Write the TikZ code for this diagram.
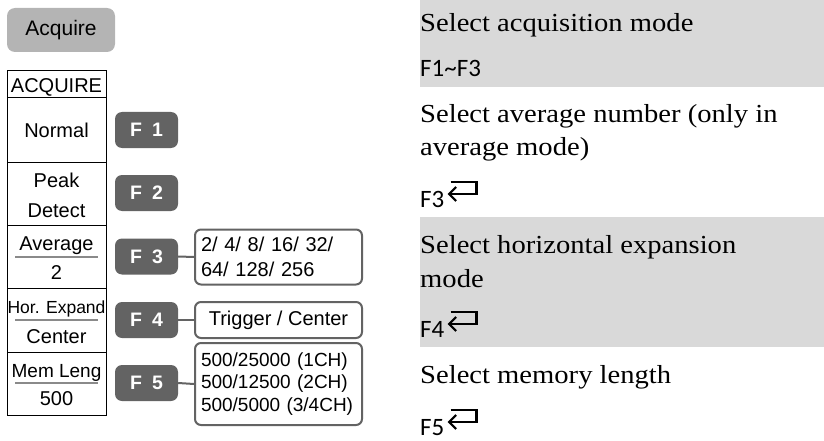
\documentclass[tikz,border=0pt]{standalone}
\usepackage{fontspec}
\setmainfont{Liberation Sans}
\newfontfamily\serifR[FakeStretch=1.1]{Liberation Serif}
\newfontfamily\keyf{Carlito}
\usetikzlibrary{arrows.meta,calc}
\definecolor{bandgray}{HTML}{D9D9D9}
\definecolor{btngray}{HTML}{B4B4B4}
\definecolor{fkeygray}{HTML}{636363}
\definecolor{sepgray}{HTML}{8A8A8A}
\tikzset{
  acqbtn/.style={rectangle, rounded corners=8pt, fill=btngray, minimum width=108pt, minimum height=44pt, inner sep=0pt, font=\fontsize{21}{25}\selectfont},
  rowbox/.style={rectangle, draw=black, line width=1pt, minimum width=99pt, inner sep=0pt},
  celltext/.style={anchor=base, inner sep=0pt, font=\fontsize{20}{24}\selectfont},
  sepline/.style={draw=sepgray, line width=1.5pt},
  fkey/.style={rectangle, rounded corners=7pt, fill=fkeygray, text=white, minimum width=63pt, minimum height=36pt, inner sep=0pt, font=\fontsize{19.5}{23}\selectfont\bfseries},
  optbox/.style={rectangle, rounded corners=6pt, draw=fkeygray, line width=2pt, fill=white, minimum width=167pt, inner xsep=6pt, inner ysep=0pt},
  conn/.style={draw=fkeygray, line width=2pt},
  desc/.style={anchor=base west, inner sep=0pt, font=\serifR\fontsize{26}{33}\selectfont},
  keytxt/.style={anchor=base west, inner sep=0pt, font=\keyf\fontsize{25}{30}\selectfont},
  retarrow/.style={draw=black, line width=2.2pt, -{Straight Barb[length=7pt,width=14pt,line width=2.2pt]}}
}
\newcommand{\retsym}[1]{\draw[retarrow] ($(#1.base east)+(6,-25)$) -- ++(26,0) -- ++(0,12) -- ++(-29,0);}
\begin{document}
\begin{tikzpicture}[x=1pt,y=-1pt]
\useasboundingbox (0,0) rectangle (824,441);
% grey bands on the right
\fill[bandgray] (420,0) rectangle (824,87);
\fill[bandgray] (420,217) rectangle (824,347);

% Acquire button
\node[acqbtn] (acq) at (61,30) {Acquire};

% menu table
\node[rowbox, minimum height=27pt] (hdr) at (56.5,84.5) {};
\node[rowbox, minimum height=64pt] (normal) at (56.5,130) {};
\node[rowbox, minimum height=63pt] (peak) at (56.5,193.5) {};
\node[rowbox, minimum height=63pt] (avg) at (56.5,256.5) {};
\node[rowbox, minimum height=64pt] (hor) at (56.5,320) {};
\node[rowbox, minimum height=63pt] (mem) at (56.5,383.5) {};

\node[celltext] (hdrT) at (56.5,93) {ACQUIRE};
\node[celltext] (normalT) at (56.5,138) {Normal};
\node[celltext] (peakT) at (56.5,187) {Peak};
\node[celltext] (peakT2) at (56.5,217) {Detect};
\node[celltext] (avgT) at (56.5,250) {Average};
\node[celltext] (avgV) at (56.5,279) {2};
\node[celltext, font=\fontsize{17.5}{21}\selectfont] (horT) at (56.5,313) {Hor. Expand};
\node[celltext] (horV) at (56.5,343) {Center};
\node[celltext, font=\fontsize{19}{23}\selectfont] (memT) at (56.5,377) {Mem Leng};
\node[celltext] (memV) at (56.5,405) {500};

\draw[sepline] (15,257) -- (98,257);
\draw[sepline] (15,320) -- (98,320);
\draw[sepline] (15,383) -- (98,383);

% function keys
\node[fkey] (f1) at (146.5,130) {F\hspace{10pt}1};
\node[fkey] (f2) at (146.5,193) {F\hspace{10pt}2};
\node[fkey] (f3) at (146.5,256.5) {F\hspace{10pt}3};
\node[fkey] (f4) at (146.5,320) {F\hspace{10pt}4};
\node[fkey] (f5) at (146.5,383) {F\hspace{10pt}5};

% option boxes
\node[optbox, minimum height=55pt, text width=155pt, align=left, font=\fontsize{20}{25}\selectfont] (o3) at (278.5,257) {2/ 4/ 8/ 16/ 32/\\64/ 128/ 256};
\node[optbox, minimum height=36pt, font=\fontsize{20}{24}\selectfont] (o4) at (278.5,320) {Trigger / Center};
\node[optbox, minimum height=82pt, text width=155pt, align=left, font=\fontsize{19}{22.5}\selectfont] (o5) at (278.5,384) {500/25000 (1CH)\\500/12500 (2CH)\\500/5000 (3/4CH)};

\draw[conn] (f3.east) -- (o3.west);
\draw[conn] (f4.east) -- (o4.west);
\draw[conn] (f5.east) -- (o5.west);

% descriptions
\node[desc] (d1) at (420,32) {Select acquisition mode};
\node[keytxt] (k1) at (420,77) {F1\textasciitilde F3};
\node[desc] (d2) at (420,123) {Select average number (only in};
\node[desc] (d2b) at (420,155) {average mode)};
\node[keytxt] (k3) at (420,207) {F3};
\retsym{k3}
\node[desc] (d4) at (420,253) {Select horizontal expansion};
\node[desc] (d4b) at (420,287) {mode};
\node[keytxt] (k4) at (420,337) {F4};
\retsym{k4}
\node[desc] (d5) at (420,383) {Select memory length};
\node[keytxt] (k5) at (420,435) {F5};
\retsym{k5}
\end{tikzpicture}
\end{document}
